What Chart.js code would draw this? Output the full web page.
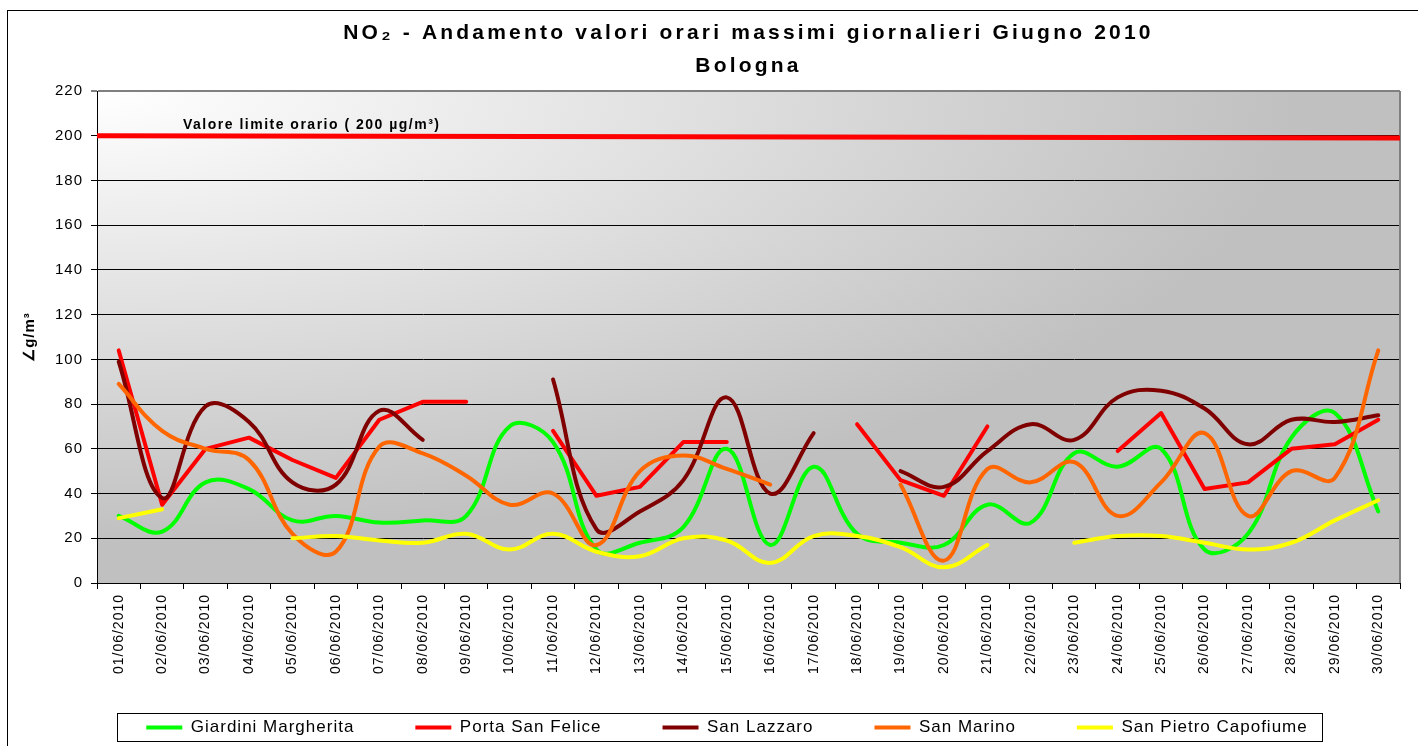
<!DOCTYPE html>
<html>
<head>
<meta charset="utf-8">
<title>NO2 Bologna Giugno 2010</title>
<script src="https://cdn.jsdelivr.net/npm/chart.js@4.4.1/dist/chart.umd.min.js"></script>
<style>
  html, body { margin: 0; padding: 0; background: #fff; overflow: hidden; }
  canvas { display: block; }
</style>
</head>
<body>
<canvas id="no2Chart" width="1418" height="746"></canvas>
<script>
/* NO2 - massimi orari giornalieri, Bologna, giugno 2010 */
const DAYS = [
    '01/06/2010', '02/06/2010', '03/06/2010', '04/06/2010', '05/06/2010', '06/06/2010',
    '07/06/2010', '08/06/2010', '09/06/2010', '10/06/2010', '11/06/2010', '12/06/2010',
    '13/06/2010', '14/06/2010', '15/06/2010', '16/06/2010', '17/06/2010', '18/06/2010',
    '19/06/2010', '20/06/2010', '21/06/2010', '22/06/2010', '23/06/2010', '24/06/2010',
    '25/06/2010', '26/06/2010', '27/06/2010', '28/06/2010', '29/06/2010', '30/06/2010'
];
const GIARDINI  = [30, 23, 45, 42, 28, 30, 27, 28, 30, 70, 63, 15, 18, 25, 60, 17, 52, 22, 18, 17, 35, 27, 58, 52, 60, 15, 22, 65, 76, 32];
const PORTA     = [104, 35, 60, 65, 55, 47, 73, 81, 81, null, 68, 39, 43, 63, 63, null, null, 71, 46, 39, 70, null, null, 59, 76, 42, 45, 60, 62, 73];
const LAZZARO   = [99, 38, 79, 72, 45, 44, 77, 64, null, null, 91, 24, 32, 46, 83, 40, 67, null, 50, 43, 59, 71, 64, 83, 86, 78, 62, 73, 72, 75];
const MARINO    = [89, 68, 60, 55, 22, 14, 61, 58, 48, 35, 40, 17, 50, 57, 51, 44, null, null, 44, 10, 51, 45, 54, 30, 45, 67, 30, 50, 47, 104];
const CAPOFIUME = [29, 33, null, null, 20, 21, 19, 18, 22, 15, 22, 14, 12, 20, 19, 9, 21, 21, 16, 7, 17, null, 18, 21, 21, 18, 15, 18, 28, 37];
const LIMIT     = [200, 199];   // linea valore limite, da bordo a bordo
const Y_TICKS   = { min: 0, max: 220, step: 20 };

const TITLE = ['NO₂ - Andamento valori orari massimi giornalieri Giugno 2010', 'Bologna'];
const LIMIT_LABEL = 'Valore limite orario ( 200 µg/m³)';
const Y_TITLE = '∠g/m³';

const FONT = '"Liberation Sans", Arial, sans-serif';

const SERIES = [
    { label: 'Giardini Margherita', data: GIARDINI, color: '#00ff00', tension: 0.4 },
    { label: 'Porta San Felice', data: PORTA, color: '#ff0000', tension: 0 },
    { label: 'San Lazzaro', data: LAZZARO, color: '#800000', tension: 0.4 },
    { label: 'San Marino', data: MARINO, color: '#ff6600', tension: 0.4 },
    { label: 'San Pietro Capofiume', data: CAPOFIUME, color: '#ffff00', tension: 0.4 }
];

const datasets = SERIES.map((s, i) => ({
    label: s.label,
    data: s.data,
    borderColor: s.color,
    backgroundColor: s.color,
    borderWidth: 4,
    borderCapStyle: 'round',
    borderJoinStyle: 'round',
    pointRadius: 0,
    pointHoverRadius: 0,
    tension: s.tension,
    order: SERIES.length - i   // come Excel: l'ultima serie sopra
}));
datasets.push({
    label: 'Valore limite orario',
    data: LIMIT.map((v, i) => ({ x: i, y: v })),
    xAxisID: 'x2',
    borderColor: '#ff0000',
    backgroundColor: '#ff0000',
    borderWidth: 5,
    borderCapStyle: 'round',
    pointRadius: 0,
    pointHoverRadius: 0,
    tension: 0,
    order: 0
});

// sfondo sfumato, cornici, titolo ed etichetta del limite
const decor = {
    id: 'decor',
    beforeUpdate(chart) { chart.ctx.letterSpacing = '1px'; },
    afterLayout(chart) {
        // le date ruotate escono dal box dell'asse: allargo l'area di clip
        chart.scales.x.bottom = chart.height;
        if (chart.legend) { chart.legend.left += 23; chart.legend.right += 23; }
    },
    beforeDraw(chart) {
        const { ctx, chartArea: a } = chart;
        ctx.save();
        ctx.fillStyle = '#fff';
        ctx.fillRect(0, 0, chart.width, chart.height);
        ctx.strokeStyle = '#000';
        ctx.lineWidth = 1;
        ctx.strokeRect(7.5, 10.5, 1412, 740);
        ctx.translate(a.left, a.top);
        ctx.scale(a.right - a.left, a.bottom - a.top);
        const g = ctx.createRadialGradient(0, 0, 0, 0, 0, 1);
        g.addColorStop(0, '#ffffff');
        g.addColorStop(0.92, '#c0c0c0');
        g.addColorStop(1, '#c0c0c0');
        ctx.fillStyle = g;
        ctx.fillRect(0, 0, 1, 1);
        ctx.restore();
    },
    beforeDatasetsDraw(chart) {
        const { ctx, chartArea: a } = chart;
        ctx.save();
        ctx.strokeStyle = '#808080';
        ctx.lineWidth = 2;
        ctx.beginPath();
        ctx.moveTo(a.right, a.top);
        ctx.lineTo(a.right, a.bottom);
        ctx.stroke();
        ctx.restore();
    },
    afterDraw(chart) {
        const { ctx, chartArea: a } = chart;
        const y = chart.scales.y;
        ctx.save();
        ctx.fillStyle = '#000';
        ctx.textBaseline = 'alphabetic';
        // titolo
        ctx.textAlign = 'center';
        ctx.font = 'bold 21px ' + FONT;
        ctx.letterSpacing = '3.2px';
        const cx = (a.left + a.right) / 2;
        ctx.fillText(TITLE[0], cx, 39);
        ctx.fillText(TITLE[1], cx, 72);
        // etichetta limite
        ctx.textAlign = 'left';
        ctx.font = 'bold 14px ' + FONT;
        ctx.letterSpacing = '1.5px';
        ctx.fillText(LIMIT_LABEL, a.left + 86, y.getPixelForValue(LIMIT[0]) - 7);
        // riquadro legenda
        ctx.letterSpacing = '0px';
        ctx.strokeStyle = '#000';
        ctx.lineWidth = 1;
        ctx.strokeRect(117.5, 713.5, 1205, 28);
        ctx.restore();
    }
};

new Chart(document.getElementById('no2Chart').getContext('2d'), {
    type: 'line',
    data: { labels: DAYS, datasets },
    options: {
        responsive: false,
        animation: false,
        layout: { padding: { top: 91, left: 8, right: 18, bottom: 0 } },
        plugins: {
            title: { display: false },
            tooltip: { enabled: false },
            legend: {
                position: 'bottom',
                labels: {
                    usePointStyle: true,
                    pointStyle: 'line',
                    pointStyleWidth: 36,
                    padding: 61,
                    color: '#000',
                    font: { size: 17, family: FONT },
                    filter: item => item.datasetIndex < SERIES.length,
                    sort: (p, q) => p.datasetIndex - q.datasetIndex
                }
            }
        },
        scales: {
            x: {
                offset: true,
                afterFit: s => { s.height = 163 - (s.chart.legend ? s.chart.legend.height : 90); },
                grid: { drawOnChartArea: false, drawTicks: true, tickLength: 6, color: '#000', offset: true },
                border: { color: '#000', width: 1 },
                ticks: { autoSkip: false, minRotation: 90, maxRotation: 90, padding: 5, color: '#000', font: { size: 14, family: FONT } }
            },
            x2: { type: 'linear', display: false, min: 0, max: LIMIT.length - 1 },
            y: {
                min: Y_TICKS.min,
                max: Y_TICKS.max,
                afterFit: s => { s.width = 89; },
                grid: {
                    tickLength: 6,
                    color: c => (c.tick && c.tick.value === Y_TICKS.max ? '#808080' : '#000'),
                    lineWidth: c => (c.tick && c.tick.value === Y_TICKS.max ? 2 : 1)
                },
                border: { color: '#000', width: 1 },
                ticks: { stepSize: Y_TICKS.step, padding: 8, color: '#000', font: { size: 15, family: FONT } },
                title: { display: true, text: Y_TITLE, color: '#000', padding: { top: 13, bottom: 0 }, font: { size: 15, weight: 'bold', family: FONT } }
            }
        }
    },
    plugins: [decor]
});
</script>
</body>
</html>
